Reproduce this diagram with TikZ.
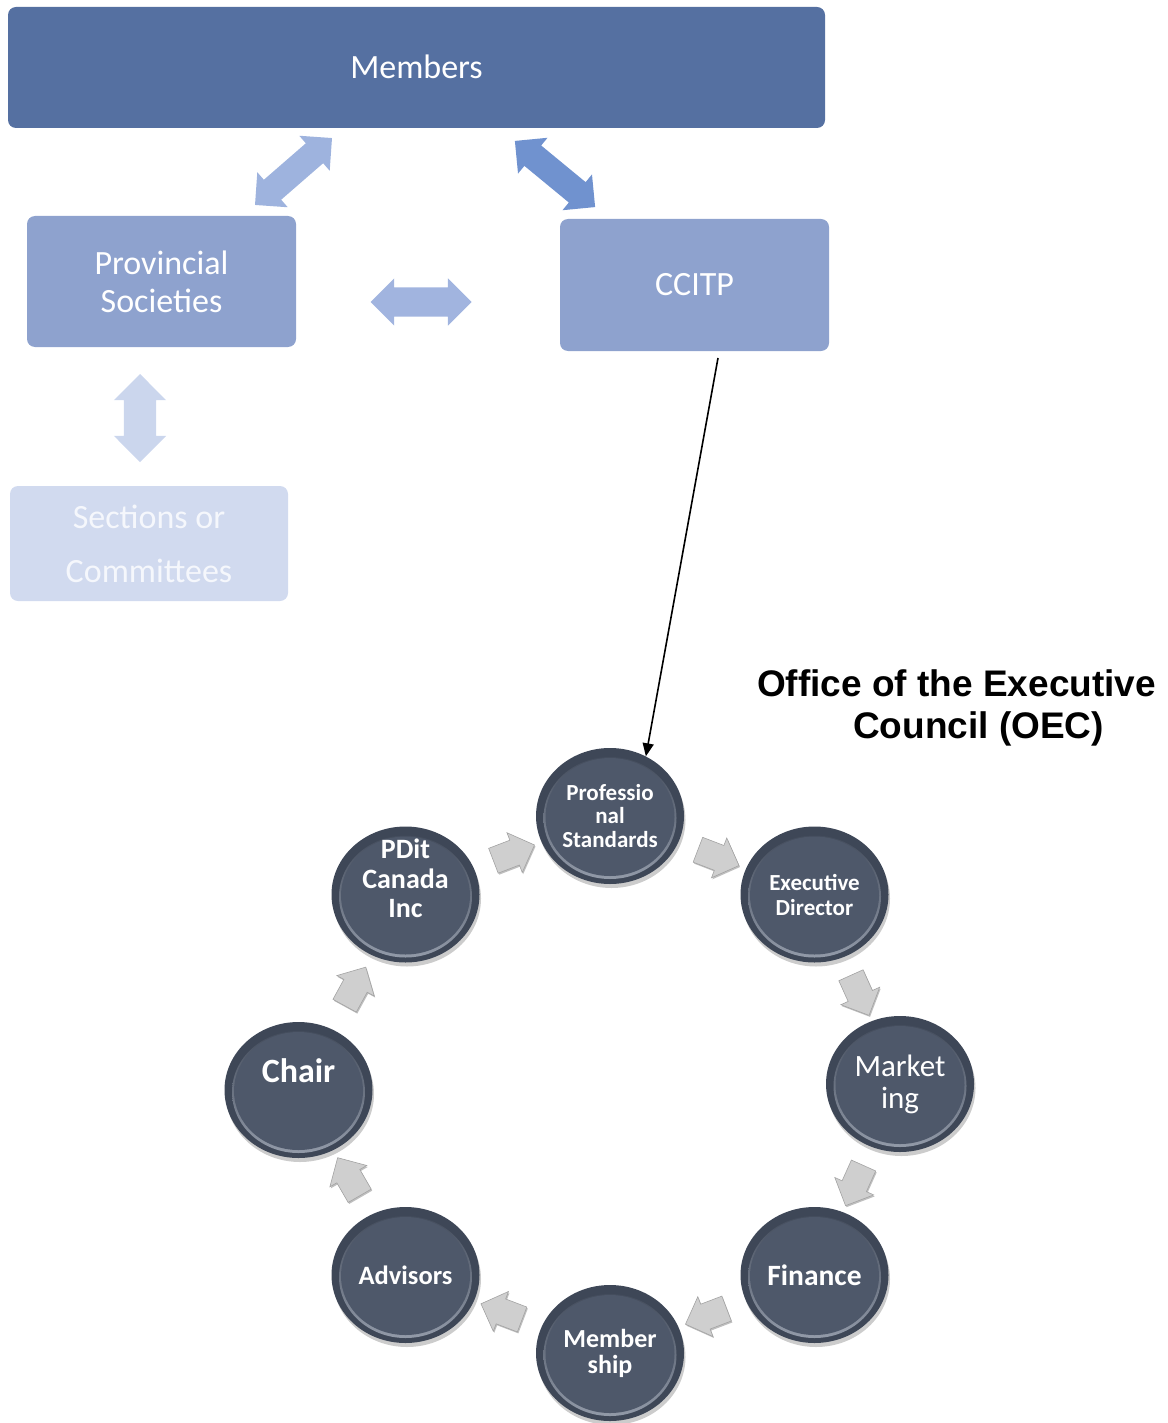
\documentclass[tikz,border=0pt]{standalone}
\usepackage{fontspec}
\setmainfont{Carlito}
\newfontfamily\arialfont{Liberation Sans}
\usetikzlibrary{shapes.geometric,shapes.arrows,arrows.meta,shadows,calc}
\definecolor{cmembers}{HTML}{5570A1}
\definecolor{cmid}{HTML}{8EA2CE}
\definecolor{csect}{HTML}{D1DAEF}
\definecolor{csecttext}{HTML}{F5F7FC}
\definecolor{aleft}{HTML}{9EB3DE}
\definecolor{aright}{HTML}{7092CF}
\definecolor{ahoriz}{HTML}{A1B4DF}
\definecolor{avert}{HTML}{CBD6ED}
\definecolor{crim}{HTML}{3E4757}
\definecolor{cring}{HTML}{959DAB}
\definecolor{cin}{HTML}{4E586A}
\definecolor{gface}{HTML}{CFCFCF}
\definecolor{gedge}{HTML}{A3A3A3}
\tikzset{
  box/.style={rectangle, rounded corners=8pt, inner sep=0pt, text=white, align=center,
    font=\fontsize{34}{38}\selectfont},
  dblarr/.style={double arrow, draw=none, inner xsep=0pt, double arrow head indent=0pt},
  circ/.style={ellipse, minimum width=148pt, minimum height=136pt, inner sep=0pt,
    fill=crim, text=white, align=center,
    drop shadow={shadow xshift=1.5pt, shadow yshift=-4pt, fill=black, opacity=0.2},
    path picture={
      \shade[top color=crim, bottom color=cring]
        ([yshift=-2pt]path picture bounding box.center) ellipse (66.5pt and 61pt);
      \fill[cin] ([yshift=-1pt]path picture bounding box.center) ellipse (64.5pt and 59pt);
    }},
  ctext/.style={text=white, align=center, inner sep=0pt},
  garrow/.style={single arrow, sloped, allow upside down, fill=gface, draw=gedge,
    line width=0.6pt, inner xsep=0pt, inner ysep=13pt, single arrow head extend=8pt,
    single arrow head indent=0pt, minimum height=44pt,
    drop shadow={shadow xshift=1pt, shadow yshift=-1.5pt, fill=gray, opacity=0.5}},
}
\begin{document}
\begin{tikzpicture}[x=1pt,y=-1pt]
\useasboundingbox (0,0) rectangle (1167,1423);

% top boxes
\node[box, fill=cmembers, minimum width=817pt, minimum height=121pt] (members) at (416.5,67.5) {\raisebox{1.5pt}{Members}};
\node[box, fill=cmid, minimum width=269pt, minimum height=131pt] (prov) at (161.5,281.5) {Provincial\\Societies};
\node[box, fill=cmid, minimum width=269pt, minimum height=132pt] (ccitp) at (694.5,285) {CCITP};
\node[box, fill=csect, text=csecttext, minimum width=278pt, minimum height=115pt,
  font=\fontsize{34}{54}\selectfont] (sect) at (149,543.5) {Sections or\\Committees};

% block double arrows
\node[dblarr, fill=aleft, inner ysep=13pt, double arrow head extend=10pt,
  minimum height=102pt, rotate=41] (a1) at (293.5,171.5) {};
\node[dblarr, fill=aright, inner ysep=13pt, double arrow head extend=10pt,
  minimum height=104pt, rotate=-39.5] (a2) at (555,174) {};
\node[dblarr, fill=ahoriz, inner ysep=14.5pt, double arrow head extend=9pt,
  minimum height=101pt] (a3) at (421,302) {};
\node[dblarr, fill=avert, inner ysep=16pt, double arrow head extend=10pt,
  minimum height=88pt, rotate=90] (a4) at (140,418) {};

% OEC title
\node[anchor=base west, inner sep=0pt, font=\arialfont\bfseries\fontsize{37}{42}\selectfont] (oec1) at (757,696) {Office of the Executive};
\node[anchor=base west, inner sep=0pt, font=\arialfont\bfseries\fontsize{37}{42}\selectfont] (oec2) at (853,738) {Council (OEC)};

% circles
\node[circ, font=\bfseries\fontsize{23}{23.5}\selectfont] (prof) at (610,816) {Professio\\nal\\Standards};
\node[circ, font=\bfseries\fontsize{23}{25}\selectfont] (exec) at (814.5,894.5) {Executive\\Director};
\node[circ, font=\fontsize{31}{32}\selectfont] (mark) at (900,1084) {Market\\ing};
\node[circ, font=\bfseries\fontsize{29.5}{32}\selectfont] (fin) at (814.5,1275) {Finance};
\node[circ, font=\bfseries\fontsize{26}{26}\selectfont] (memb) at (610,1353) {Member\\ship};
\node[circ, font=\bfseries\fontsize{26.5}{30}\selectfont] (adv) at (405.5,1275) {Advisors};
\node[circ] (chair) at (298.5,1090) {};
\node[ctext, font=\bfseries\fontsize{34}{36}\selectfont] (chairt) at ([yshift=19pt]chair.center) {Chair};
\node[circ] (pdit) at (405.5,894.5) {};
\node[ctext, font=\bfseries\fontsize{28}{29.5}\selectfont] (pditt) at ([yshift=16pt]pdit.center) {PDit\\Canada\\Inc};

% gray flow arrows
\path (pdit) -- node[garrow] (g1) {} (prof);
\path (prof) -- node[garrow] (g2) {} (exec);
\path (exec) -- node[garrow] (g3) {} (mark);
\path (mark) -- node[garrow] (g4) {} (fin);
\path (fin) -- node[garrow] (g5) {} (memb);
\path (memb) -- node[garrow] (g6) {} (adv);
\path (adv) -- node[garrow] (g7) {} (chair);
\path (chair) -- node[garrow] (g8) {} (pdit);

% connector CCITP -> Professional Standards
\coordinate (lstart) at (718,358);
\draw[line width=1.6pt, -{Triangle[length=13pt,width=11pt]}] (lstart) -- (prof.59);
\end{tikzpicture}
\end{document}
